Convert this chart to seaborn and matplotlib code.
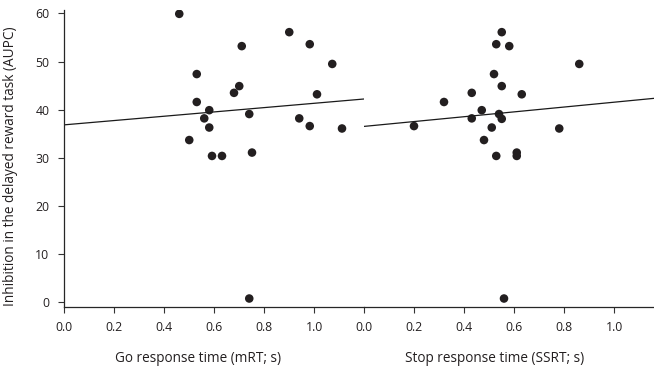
import matplotlib
matplotlib.use("Agg")
import matplotlib.pyplot as plt
import seaborn as sns
import numpy as np
import pandas as pd

# Go response time panel
go_rt = [0.461, 0.901, 0.983, 0.711, 1.073, 0.531, 0.701, 0.680, 1.012, 0.531, 0.581,
         0.741, 0.561, 0.941, 0.983, 0.581, 1.112, 0.501, 0.752, 0.592, 0.632, 0.741]
aupc_go = [59.9, 56.1, 53.6, 53.2, 49.5, 47.4, 44.9, 43.5, 43.2, 41.6, 39.9,
           39.1, 38.2, 38.2, 36.6, 36.3, 36.1, 33.7, 31.1, 30.4, 30.4, 0.8]

# Stop response time panel
ssrt = [0.551, 0.529, 0.581, 0.861, 0.520, 0.551, 0.431, 0.631, 0.320, 0.471, 0.540,
        0.551, 0.431, 0.200, 0.511, 0.781, 0.480, 0.611, 0.529, 0.611, 0.560]
aupc_ssrt = [56.1, 53.6, 53.2, 49.5, 47.4, 44.9, 43.5, 43.2, 41.6, 39.9, 39.1,
             38.1, 38.2, 36.6, 36.3, 36.1, 33.7, 31.1, 30.4, 30.4, 0.8]

x_ticks = [0.0, 0.2, 0.4, 0.6, 0.8, 1.0]
y_ticks = [0, 10, 20, 30, 40, 50, 60]
x_labels = ["Go response time (mRT; s)", "Stop response time (SSRT; s)"]
y_label = "Inhibition in the delayed reward task (AUPC)"

sns.set_style("ticks")
plt.rcParams["font.family"] = ["Open Sans", "DejaVu Sans"]
plt.rcParams["font.size"] = 8.5

fig = plt.figure(figsize=(6.54, 3.67), dpi=100)
bottom = 1 - 306.7 / 367
height = (306.7 - 10) / 367
ax1 = fig.add_axes([64 / 654, bottom, 300 / 654, height])
ax2 = fig.add_axes([364 / 654, bottom, 290 / 654, height])

dot = "#231f20"
panels = [
    (ax1, go_rt, aupc_go, (0, 1.2)),
    (ax2, ssrt, aupc_ssrt, (0, 1.16)),
]
for ax, xs, ys, xlim in panels:
    ax.set_xlim(*xlim)
    ax.set_ylim(-0.9, 60.7)
    df = pd.DataFrame({"x": xs, "y": ys})
    sns.regplot(data=df, x="x", y="y", ax=ax, ci=None, truncate=False,
                scatter_kws=dict(s=38, color=dot, edgecolor="none", alpha=1),
                line_kws=dict(color="#1a1a1a", lw=0.9))
    ax.set_xticks(x_ticks)
    ax.set_xticklabels([f"{t:.1f}" for t in x_ticks])
    ax.tick_params(axis="both", length=4.5, width=0.8, color="#333333",
                   labelsize=8.8, labelcolor="#231f20")
    ax.tick_params(axis="x", pad=6)
    ax.tick_params(axis="y", pad=6)
    for s in ["top", "right"]:
        ax.spines[s].set_visible(False)
    ax.spines["bottom"].set_linewidth(0.9)
    ax.spines["left"].set_linewidth(0.9)
    ax.set_xlabel("")
    ax.set_ylabel("")
    ax.set_facecolor("none")

ax1.set_yticks(y_ticks)
ax2.spines["left"].set_visible(False)
ax2.set_yticks([])

fig.text(198 / 654, 1 - 358 / 367, x_labels[0], ha="center", va="center",
         fontsize=9.8, color="#231f20")
fig.text(494.5 / 654, 1 - 358 / 367, x_labels[1], ha="center", va="center",
         fontsize=9.8, color="#231f20")
fig.text(11 / 654, 1 - 166 / 367, y_label, rotation=90, ha="center", va="center",
         fontsize=9.8, color="#231f20")

fig.savefig("out.png", dpi=100)
